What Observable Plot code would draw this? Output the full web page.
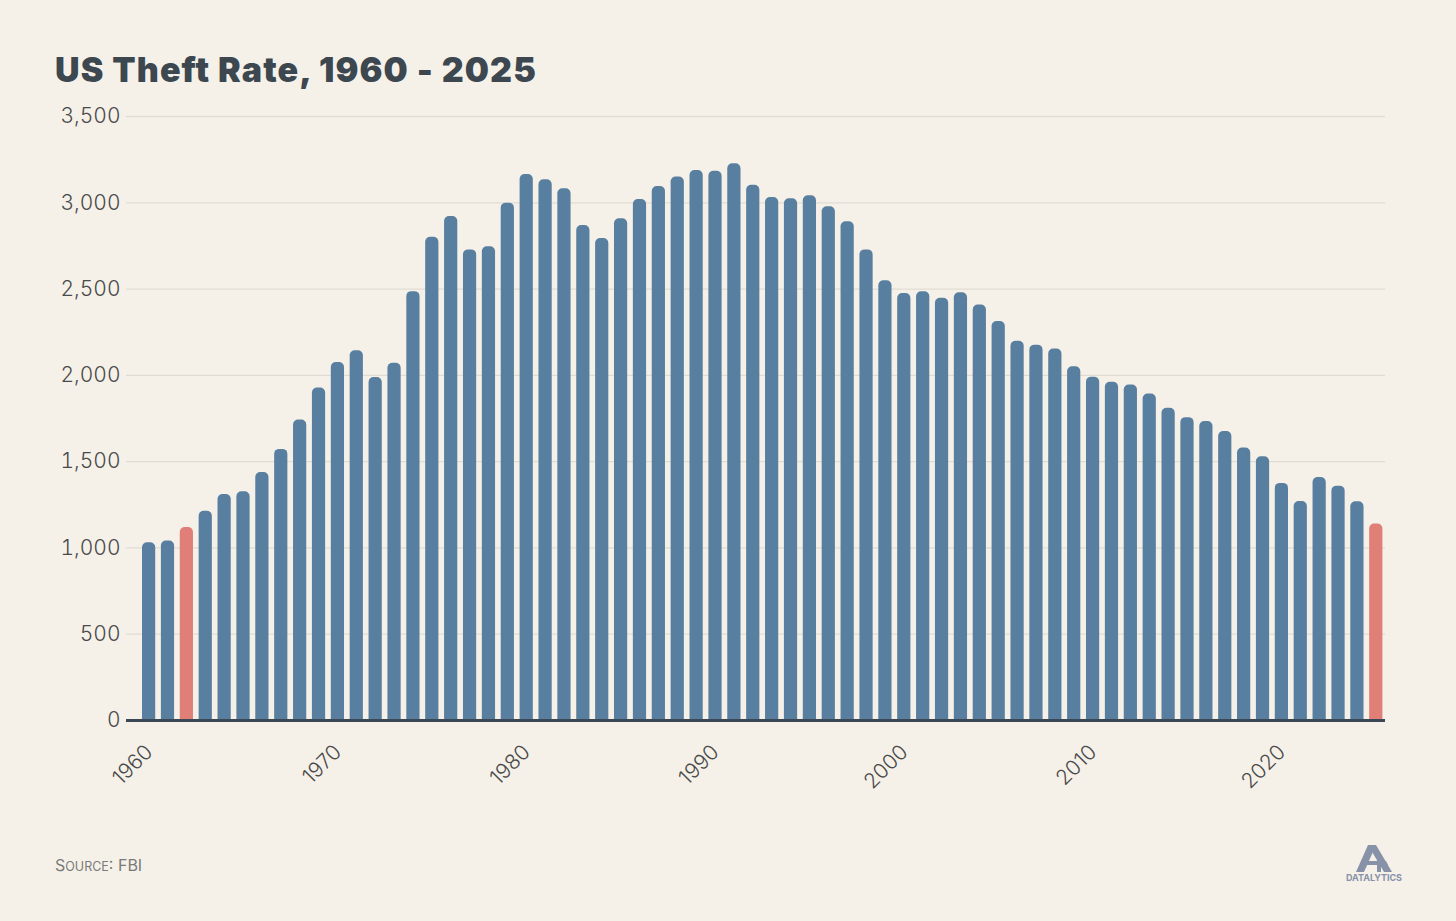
<!DOCTYPE html>
<html>
<head>
<meta charset="utf-8">
<script src="https://cdn.jsdelivr.net/npm/d3@7"></script>
<script src="https://cdn.jsdelivr.net/npm/@observablehq/plot@0.6"></script>
<style>
  html, body { margin: 0; padding: 0; background: #f5f1e9; }
  #wrap { position: relative; width: 1456px; height: 921px; background: #f5f1e9; overflow: hidden; }
  #title { position: absolute; left: 55px; top: 50px; font-family: Inter, "DejaVu Sans", sans-serif; font-weight: 900; font-size: 34px; line-height: 40px; color: #3c4750; letter-spacing: 1.1px; white-space: nowrap; }
  #chart { position: absolute; left: 0; top: 0; }
  #source { position: absolute; left: 55px; top: 855px; font-family: Inter, sans-serif; font-size: 16px; line-height: 20px; color: #7a7a7a; font-weight: 400; white-space: nowrap; }
  #source .sc { font-size: 12.5px; }
  #logo { position: absolute; left: 1340px; top: 840px; }
  #chart svg text { font-weight: 300; }
</style>
</head>
<body>
<div id="wrap">
  <div id="chart"></div>
  <div id="title">US Theft Rate, 1960 - 2025</div>
  <div id="source">S<span class="sc">OURCE</span>: FBI</div>
  <svg id="logo" width="70" height="46" viewBox="0 0 70 46">
    <path d="M16 32 L28 5 L36 5 L24 32 Z" fill="#8791a8"/>
    <path d="M28 5 L36 5 L52 32 L44 32 Z" fill="#8791a8"/>
    <path d="M37 14 L41 14 L41 32 L37 32 Z" fill="#8791a8"/>
    <path d="M24 25 L48 25 L46 21 L26 21 Z" fill="#8791a8"/>
    <text x="34" y="41" text-anchor="middle" font-family="Inter, sans-serif" font-weight="700" font-size="9" fill="#8791a8">DATALYTICS</text>
  </svg>
</div>
<script>
const years = [1960,1961,1962,1963,1964,1965,1966,1967,1968,1969,
  1970,1971,1972,1973,1974,1975,1976,1977,1978,1979,
  1980,1981,1982,1983,1984,1985,1986,1987,1988,1989,
  1990,1991,1992,1993,1994,1995,1996,1997,1998,1999,
  2000,2001,2002,2003,2004,2005,2006,2007,2008,2009,
  2010,2011,2012,2013,2014,2015,2016,2017,2018,2019,
  2020,2021,2022,2023,2024,2025];
const theftRate = [1030,1040,1118,1213,1310,1325,1437,1571,1741,1927,
  2075,2142,1988,2070,2485,2800,2920,2727,2745,2998,
  3164,3133,3081,2868,2793,2907,3019,3094,3149,3187,
  3183,3226,3102,3031,3023,3041,2977,2890,2727,2548,
  2474,2484,2447,2478,2407,2312,2197,2175,2153,2050,
  1989,1960,1944,1892,1809,1755,1733,1675,1579,1528,
  1374,1269,1408,1358,1267,1138];
const highlightYears = [1962, 2025];
const yTicks = [0,500,1000,1500,2000,2500,3000,3500];
const xTicks = [1960,1970,1980,1990,2000,2010,2020];

const blue = "#587f9f";
const red = "#e07e78";

const data = years.map((y, i) => ({
  year: y,
  value: theftRate[i],
  group: highlightYears.includes(y) ? "highlight" : "normal"
}));

const chart = Plot.plot({
  width: 1456,
  height: 800,
  marginLeft: 126,
  marginRight: 71,
  marginTop: 116,
  marginBottom: 80,
  style: { background: "transparent", fontFamily: "Inter, sans-serif", fontSize: "21px", color: "#4a4a4a" },
  x: { type: "band", domain: years, range: [142, 1382.4], paddingInner: 0.3, paddingOuter: 0, label: null },
  y: { domain: [0, 3500], label: null },
  color: { domain: ["normal", "highlight"], range: [blue, red] },
  marks: [
    Plot.ruleY(yTicks.filter(d => d > 0), { stroke: "#e1dcd3", strokeWidth: 1.3 }),
    Plot.axisY({ ticks: yTicks, tickSize: 0, tickPadding: 6, tickFormat: d3.format(","), label: null, fill: "#4a4a4a" }),
    Plot.barY(data, { x: "year", y1: -60, y2: "value", fill: "group", rx: 5, ry: 5, clip: true }),
    Plot.ruleY([0], { stroke: "#3b4752", strokeWidth: 3 }),
    Plot.axisX({ ticks: xTicks, tickRotate: -45, tickSize: 0, tickPadding: 28, tickFormat: d => String(d), label: null, fill: "#4a4a4a" })
  ]
});
document.getElementById("chart").appendChild(chart);
</script>
</body>
</html>
